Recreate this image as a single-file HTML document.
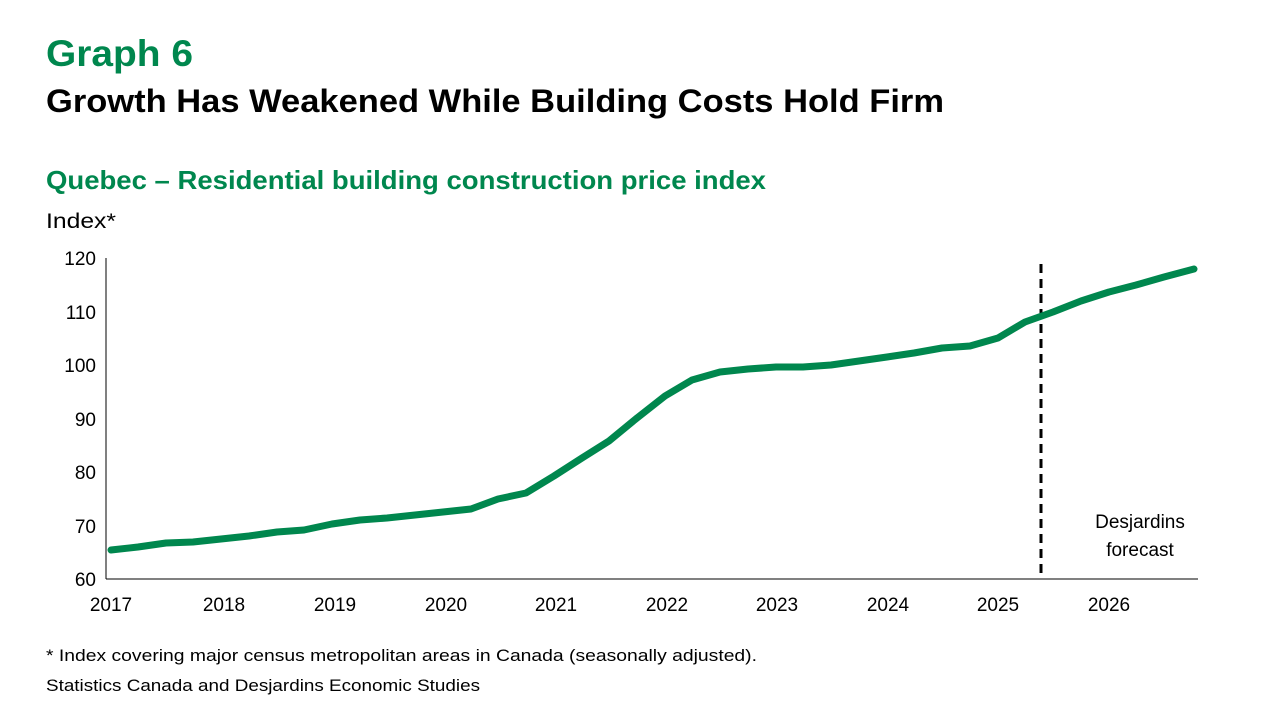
<!DOCTYPE html>
<html><head><meta charset="utf-8"><style>
body{margin:0;width:1280px;height:720px;background:#fff;overflow:hidden;font-family:"Liberation Sans",sans-serif}
</style></head><body>
<svg width="1280" height="720" xmlns="http://www.w3.org/2000/svg" font-family="Liberation Sans, sans-serif">
<text x="46" y="66" font-size="37" font-weight="bold" fill="#00874e" textLength="147" lengthAdjust="spacingAndGlyphs">Graph 6</text>
<text x="46" y="112" font-size="32" font-weight="bold" fill="#000" textLength="898" lengthAdjust="spacingAndGlyphs">Growth Has Weakened While Building Costs Hold Firm</text>
<text x="46" y="189" font-size="26" font-weight="bold" fill="#00874e" textLength="720" lengthAdjust="spacingAndGlyphs">Quebec – Residential building construction price index</text>
<text x="46" y="228" font-size="21" fill="#000" textLength="70" lengthAdjust="spacingAndGlyphs">Index*</text>
<g font-size="19" fill="#000" text-anchor="end">
<text x="96" y="265">120</text><text x="96" y="319">110</text><text x="96" y="372">100</text>
<text x="96" y="426">90</text><text x="96" y="479">80</text><text x="96" y="533">70</text><text x="96" y="586">60</text>
</g>
<line x1="106" y1="258" x2="106" y2="579" stroke="#000" stroke-width="1"/>
<line x1="106" y1="579" x2="1198" y2="579" stroke="#000" stroke-width="1"/>
<g font-size="19" fill="#000" text-anchor="middle">
<text x="111" y="611">2017</text><text x="224" y="611">2018</text><text x="335" y="611">2019</text>
<text x="446" y="611">2020</text><text x="556" y="611">2021</text><text x="667" y="611">2022</text>
<text x="777" y="611">2023</text><text x="888" y="611">2024</text><text x="998" y="611">2025</text>
<text x="1109" y="611">2026</text>
</g>
<line x1="1041" y1="264" x2="1041" y2="579" stroke="#000" stroke-width="3" stroke-dasharray="9,6"/>
<polyline fill="none" stroke="#00874e" stroke-width="7" stroke-linejoin="round" stroke-linecap="round" points="111,550 138,547 166,543 193,542 221,539 249,536 277,532 304,530 332,524 360,520 387,518 415,515 443,512 471,509 498,499 526,493 554,476 582,458 609,441 637,418 665,396 692,380 720,372 748,369 776,367 803,367 831,365 859,361 887,357 914,353 942,348 970,346 998,338 1025,322 1053,312 1081,301 1109,292 1136,285 1164,277 1194,269"/>
<text x="1140" y="528" font-size="19" text-anchor="middle">Desjardins</text>
<text x="1140" y="556" font-size="19" text-anchor="middle">forecast</text>
<text x="46" y="661" font-size="17" textLength="711" lengthAdjust="spacingAndGlyphs">* Index covering major census metropolitan areas in Canada (seasonally adjusted).</text>
<text x="46" y="691" font-size="17" textLength="434" lengthAdjust="spacingAndGlyphs">Statistics Canada and Desjardins Economic Studies</text>
</svg>
</body></html>
